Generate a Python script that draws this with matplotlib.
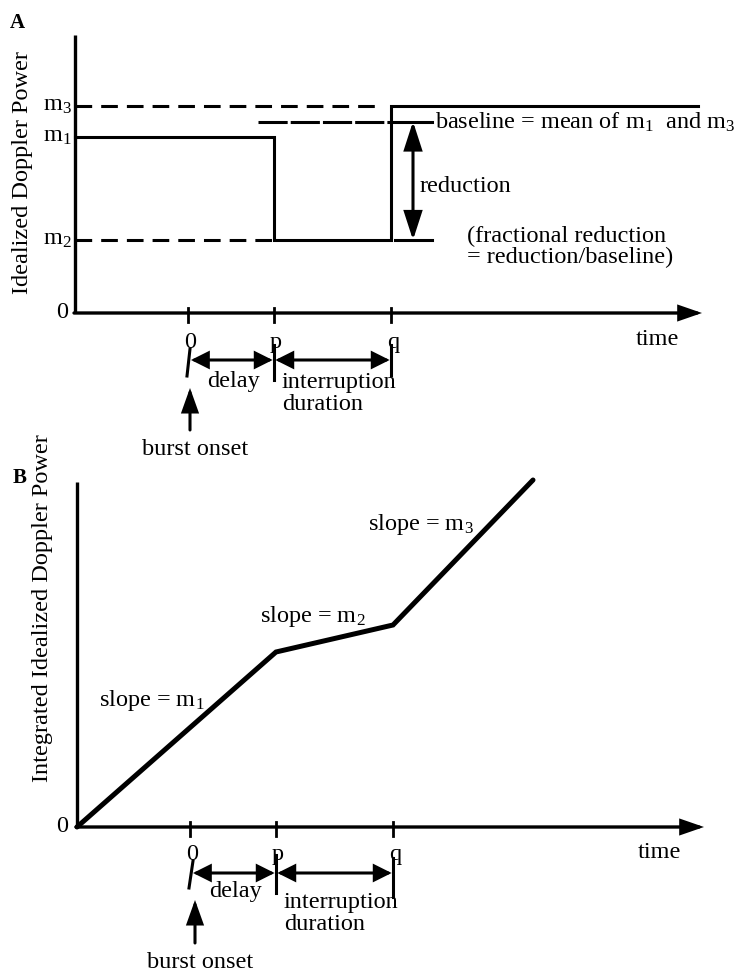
import numpy as np
import matplotlib
matplotlib.use("Agg")
import matplotlib.pyplot as plt

plt.rcParams['font.family'] = ['Liberation Serif', 'DejaVu Serif']
plt.rcParams['mathtext.fontset'] = 'custom'
plt.rcParams['mathtext.rm'] = 'Liberation Serif'
plt.rcParams['mathtext.it'] = 'Liberation Serif:italic'
plt.rcParams['lines.scale_dashes'] = False

# ---- data -------------------------------------------------------------
# time points (arbitrary units): burst onset, end of delay (p), end of interruption (q)
tick_labels = ['0', 'p', 'q']
tick_times = [0.0, 8.6, 20.3]
t_start = -11.3          # left end of the time axis
t_trace_end = 51.0       # end of the idealized power trace
t_axis_end = 51.4        # tip of the time-axis arrow

# idealized Doppler power levels
level_names = ['$\\mathrm{m}_1$', '$\\mathrm{m}_2$', '$\\mathrm{m}_3$']
m1, m2, m3 = 17.6, 7.3, 20.7
baseline = (m1 + m3) / 2.0
power_top = 27.8

# integrated idealized Doppler power at the breakpoints
cum_t = [-11.3, 8.6, 20.3, 34.3]
cum_val = [0.0, 17.5, 20.2, 34.7]
cum_top = 34.5

FS = 17.5
LW_AX = 2.4
LW = 2.2

fig = plt.figure(figsize=(7.36, 9.77), dpi=100)
W, H = 736.0, 977.0


def arrow(ax, x0, y0, x1, y1, style, hl, hw, lw=LW, sA=0, sB=0):
    ax.annotate('', xy=(x1, y1), xytext=(x0, y0), annotation_clip=False,
                arrowprops=dict(arrowstyle=f'{style},head_length={hl},head_width={hw}',
                                lw=lw, color='k', shrinkA=sA, shrinkB=sB,
                                mutation_scale=10, joinstyle='miter'))


def time_axis(ax, onset_tilt, p_span, q_span, lab_y, arr_y, delay_y, intr_y, dur_y,
              onset_x, onset_y0, onset_y1, burst_y, time_y):
    t0, tp, tq = tick_times
    # axes
    ax.plot([t_start, t_start], [0, ax.get_ylim()[1]], color='k', lw=LW_AX,
            solid_capstyle='butt', clip_on=False)
    arrow(ax, t_start - 0.1, 0, t_axis_end, 0, '-|>', 1.3, 0.45, lw=LW_AX)
    for t in tick_times:
        ax.plot([t, t], [-0.9, 0.5], color='k', lw=2.0, clip_on=False)
    for t, lab in zip(tick_times, tick_labels):
        ax.text(t + 0.2, lab_y, lab, ha='center', va='baseline', fontsize=FS)
    ax.text(46.9, time_y, 'time', ha='center', va='baseline', fontsize=FS)
    # interval markers
    ax.plot([t0 + onset_tilt, t0 - 0.1], [lab_y - 0.1, lab_y - 2.8], color='k', lw=LW, clip_on=False)
    ax.plot([tp, tp], p_span, color='k', lw=LW, clip_on=False)
    ax.plot([tq, tq], q_span, color='k', lw=LW, clip_on=False)
    arrow(ax, t0 + 0.3, arr_y, tp, arr_y, '<|-|>', 1.0, 0.5, sA=0, sB=1)
    arrow(ax, tp, arr_y, tq, arr_y, '<|-|>', 1.0, 0.5, sA=1, sB=1)
    ax.text((t0 + tp) / 2 + 0.2, delay_y, 'delay', ha='center', va='baseline', fontsize=FS)
    ax.text(tp + 0.8, intr_y, 'interruption', ha='left', va='baseline', fontsize=FS)
    ax.text(tp + 0.8, dur_y, 'duration', ha='left', va='baseline', fontsize=FS)
    arrow(ax, onset_x, onset_y0, onset_x, onset_y1, '-|>', 1.4, 0.5)
    ax.text(onset_x + 0.5, burst_y, 'burst onset', ha='center', va='baseline', fontsize=FS)


# ---- panel A: idealized Doppler power ----------------------------------
axA = fig.add_axes([75 / W, (H - 313) / H, 627 / W, 278 / H])
axA.set_xlim(t_start, t_axis_end)
axA.set_ylim(0, power_top)
axA.axis('off')
t0, tp, tq = tick_times

# idealized step trace
axA.plot([t_start, tp, tp, tq, tq, t_trace_end], [m1, m1, m2, m2, m3, m3],
         color='k', lw=LW, solid_joinstyle='miter', clip_on=False)
# reference levels
axA.plot([t_start, tq - 0.8], [m3, m3], color='k', lw=LW, dashes=(12, 6.5), clip_on=False)
axA.plot([t_start, tp], [m2, m2], color='k', lw=LW, dashes=(12, 6.5), clip_on=False)
red_x = 22.5
axA.plot([tq + 0.4, red_x + 1.9], [m2, m2], color='k', lw=LW, clip_on=False)
axA.plot([7.0, tq], [baseline, baseline], color='k', lw=LW, dashes=(21, 2.2), clip_on=False)
axA.plot([tq, red_x + 1.9], [baseline, baseline], color='k', lw=LW, clip_on=False)
arrow(axA, red_x, baseline, red_x, m2, '<|-|>', 1.7, 0.55)

axA.text(red_x + 0.7, 12.1, 'reduction', ha='left', va='baseline', fontsize=FS)
axA.text(red_x + 2.2, 18.4, 'baseline = mean of $\\mathrm{m}_1$  and $\\mathrm{m}_3$',
         ha='left', va='baseline', fontsize=FS)
axA.text(27.9, 7.1, '(fractional reduction', ha='left', va='baseline', fontsize=FS)
axA.text(27.9, 5.0, '= reduction/baseline)', ha='left', va='baseline', fontsize=FS)

for name, lev in zip(level_names, [m1, m2, m3]):
    axA.text(t_start - 0.35, lev - 0.45, name, ha='right', va='baseline', fontsize=FS)
axA.text(t_start - 0.7, 0, '0', ha='right', va='center', fontsize=FS)

time_axis(axA, 0.2, [-3.2, -6.7], [-3.2, -6.2], lab_y=-3.5, arr_y=-4.7,
          delay_y=-7.4, intr_y=-7.5, dur_y=-9.7, onset_x=0.2, onset_y0=-11.7,
          onset_y1=-7.5, burst_y=-14.2, time_y=-3.2)

fig.text(10 / W, 1 - 28 / H, 'A', fontsize=15, fontweight='bold', va='baseline')
fig.text(23 / W, 1 - 173 / H, 'Idealized Doppler Power', rotation=90,
         ha='center', va='center', fontsize=FS)

# ---- panel B: integrated idealized Doppler power ------------------------
axB = fig.add_axes([77 / W, (H - 827) / H, 627 / W, 345 / H])
axB.set_xlim(t_start, t_axis_end)
axB.set_ylim(0, cum_top)
axB.axis('off')

axB.plot(cum_t, cum_val, color='k', lw=3.6, solid_joinstyle='miter',
         solid_capstyle='round', clip_on=False)
axB.text(-9.1, 12.1, 'slope = $\\mathrm{m}_1$', ha='left', va='baseline', fontsize=FS)
axB.text(7.0, 20.5, 'slope = $\\mathrm{m}_2$', ha='left', va='baseline', fontsize=FS)
axB.text(17.8, 29.7, 'slope = $\\mathrm{m}_3$', ha='left', va='baseline', fontsize=FS)
axB.text(t_start - 0.9, 0, '0', ha='right', va='center', fontsize=FS)

time_axis(axB, 0.3, [-2.8, -6.6], [-3.1, -7.0], lab_y=-3.3, arr_y=-4.6,
          delay_y=-7.0, intr_y=-8.1, dur_y=-10.3, onset_x=0.5, onset_y0=-11.6,
          onset_y1=-7.3, burst_y=-14.1, time_y=-3.1)

fig.text(13 / W, 1 - 483 / H, 'B', fontsize=15, fontweight='bold', va='baseline')
fig.text(43 / W, 1 - 608 / H, 'Integrated Idealized Doppler Power', rotation=90,
         ha='center', va='center', fontsize=FS)

fig.savefig('out.png', dpi=100)
